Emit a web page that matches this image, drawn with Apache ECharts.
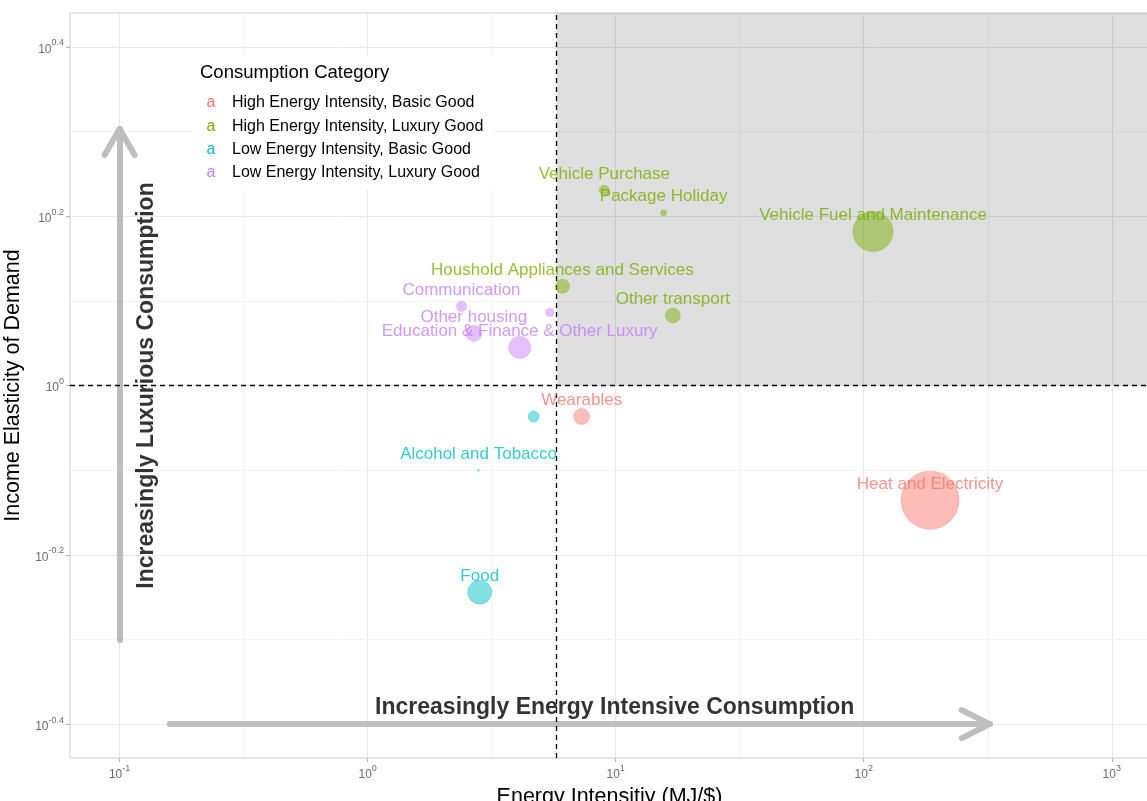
<!DOCTYPE html>
<html>
<head>
    <meta charset="utf-8">
    <title>Energy intensity and income elasticity</title>
    <style>
        * { margin: 0; padding: 0; }
        body { background: #fff; }
        #main { width: 1147px; height: 801px; }
    </style>
    <script src="https://cdn.jsdelivr.net/npm/echarts@6/dist/echarts.min.js"></script>
</head>
<body>
    <div id="main"></div>
    <script type="text/javascript">
        // categories (legend order)
        const categories = [
            'High Energy Intensity, Basic Good',
            'High Energy Intensity, Luxury Good',
            'Low Energy Intensity, Basic Good',
            'Low Energy Intensity, Luxury Good'
        ];
        const palette = ['#F8766D', '#7CAE00', '#00BFC4', '#C77CFF'];

        // consumption items ('' = point without a text label)
        const itemNames = [
            'Vehicle Purchase', 'Package Holiday', 'Vehicle Fuel and Maintenance',
            'Houshold Appliances and Services', 'Other transport', 'Communication', '',
            'Other housing', 'Education & Finance & Other Luxury', '', 'Wearables',
            'Alcohol and Tobacco', 'Food', 'Heat and Electricity'
        ];
        const itemCategory = [1, 1, 1, 1, 1, 3, 3, 3, 3, 2, 0, 2, 2, 0];
        const energyIntensity = [9.0, 15.6, 109, 6.1, 17.0, 2.39, 5.42, 2.68, 4.10, 4.67, 7.29, 2.80, 2.83, 185];
        const incomeElasticity = [1.70, 1.60, 1.52, 1.31, 1.21, 1.24, 1.22, 1.152, 1.109, 0.919, 0.919, 0.794, 0.570, 0.732];
        const budgetShare = [0.6, 0.21, 9.5, 1.17, 1.3, 0.6, 0.38, 1.5, 2.9, 0.72, 1.5, 0.02, 3.4, 20];

        // thresholds and axis ticks (exponents of 10)
        const energyThreshold = 5.78;
        const elasticityThreshold = 1;
        const xTickExp = [-1, 0, 1, 2, 3];
        const yTickExp = [-0.4, -0.2, 0, 0.2, 0.4];
        const xMinorExp = [-0.5, 0.5, 1.5, 2.5];
        const yMinorExp = [-0.3, -0.1, 0.1, 0.3];
        const xRange = [-1.2, 3.15];
        const yRange = [-0.44, 0.44];

        const font = '"Liberation Sans", Arial, Helvetica, sans-serif';
        const log10 = Math.log10;

        function fade(hex, a) {
            const n = parseInt(hex.slice(1), 16);
            return 'rgba(' + (n >> 16) + ',' + ((n >> 8) & 255) + ',' + (n & 255) + ',' + a + ')';
        }

        function powLabel(v) {
            let e = +(+v).toFixed(1);
            return '{b|10}{s|' + String(e) + '}';
        }
        const powRich = {
            b: { fontSize: 12, color: '#6b6b6b', fontFamily: font, lineHeight: 17, verticalAlign: 'bottom' },
            s: { fontSize: 9, color: '#6b6b6b', fontFamily: font, lineHeight: 9, verticalAlign: 'top' }
        };

        // points grouped by category
        const pointSeries = categories.map((cat, ci) => {
            const data = [];
            itemNames.forEach((nm, i) => {
                if (itemCategory[i] !== ci) return;
                data.push({
                    name: nm,
                    value: [log10(energyIntensity[i]), log10(incomeElasticity[i]), budgetShare[i]],
                    label: { show: nm !== '' }
                });
            });
            return {
                name: cat,
                type: 'scatter',
                z: 5,
                data: data,
                symbolSize: v => 13 * Math.sqrt(v[2]),
                itemStyle: { color: fade(palette[ci], 0.6), borderColor: fade(palette[ci], 0.5), borderWidth: 0.8 },
                label: {
                    position: 'inside',
                    offset: [0, -16],
                    formatter: '{b}',
                    color: palette[ci],
                    fontSize: 17,
                    fontFamily: font
                },
                emphasis: { disabled: true }
            };
        });

        // arrows: shaft + two arms, in log10 data units
        const arrowStyle = { color: '#bebebe', width: 6, type: 'solid', cap: 'round' };
        const vArrow = [[-1, -0.301], [-1, 0.303]];
        const hArrow = [[-0.798, -0.4], [2.508, -0.4]];
        function seg(a, b, style) {
            return [{ coord: a, lineStyle: style }, { coord: b }];
        }
        const vTip = vArrow[1], hTip = hArrow[1];
        const arrowLines = [
            seg(vArrow[0], vTip, arrowStyle),
            seg(vTip, [vTip[0] - 0.0605, vTip[1] - 0.0307], arrowStyle),
            seg(vTip, [vTip[0] + 0.0605, vTip[1] - 0.0307], arrowStyle),
            seg(hArrow[0], hTip, arrowStyle),
            seg(hTip, [hTip[0] - 0.113, hTip[1] + 0.0165], arrowStyle),
            seg(hTip, [hTip[0] - 0.113, hTip[1] - 0.0165], arrowStyle)
        ];
        const minorStyle = { color: '#f3f3f3', width: 1, type: 'solid' };
        const minorLines = xMinorExp.map(v => ({ xAxis: v, lineStyle: minorStyle }))
            .concat(yMinorExp.map(v => ({ yAxis: v, lineStyle: minorStyle })));
        const dashStyle = { color: '#000', type: [5, 4], width: 1.3 };

        // minor grid (bottom layer)
        const minorGridSeries = {
            type: 'scatter',
            z: 1,
            silent: true,
            data: [],
            markLine: {
                z: 1, silent: true, animation: false,
                symbol: ['none', 'none'], label: { show: false },
                data: minorLines
            }
        };

        // shaded quadrant, guide lines and arrows
        const annotationSeries = {
            type: 'scatter',
            z: 3,
            silent: true,
            symbolSize: 0,
            data: [],
            markArea: {
                z: 2,
                silent: true,
                itemStyle: { color: 'rgba(0,0,0,0.13)' },
                data: [[
                    { coord: [log10(energyThreshold), log10(elasticityThreshold)] },
                    { coord: [xRange[1], yRange[1]] }
                ]]
            },
            markLine: {
                z: 3, silent: true, animation: false,
                symbol: ['none', 'none'], label: { show: false },
                data: arrowLines.concat([
                    { xAxis: log10(energyThreshold), lineStyle: dashStyle },
                    { yAxis: log10(elasticityThreshold), lineStyle: dashStyle }
                ])
            }
        };

        const arrowTextSeries = {
            type: 'scatter',
            z: 5,
            silent: true,
            symbolSize: 0,
            data: [
                { value: [-0.891, 0], label: { formatter: 'Increasingly Luxurious Consumption', rotate: 90 } },
                { value: [0.996, -0.380], label: { formatter: 'Increasingly Energy Intensive Consumption' } }
            ],
            label: {
                show: true,
                position: 'inside',
                color: '#000',
                fontSize: 23,
                fontWeight: 'bold',
                fontFamily: font
            }
        };

        // legend drawn as a small boxed key with coloured "a"
        const legendGraphic = [
            { type: 'rect', z: 10, shape: { x: 192, y: 56, width: 300, height: 134 }, style: { fill: '#fff' } },
            { type: 'text', z: 11, x: 200, y: 73,
              style: { text: 'Consumption Category', fontSize: 18.5, fontFamily: font, fill: '#000', verticalAlign: 'middle' } }
        ];
        categories.forEach((cat, i) => {
            const y = 103 + i * 23.3;
            legendGraphic.push({ type: 'text', z: 11, x: 211, y: y,
                style: { text: 'a', fontSize: 16, fontFamily: font, fill: palette[i], align: 'center', verticalAlign: 'middle' } });
            legendGraphic.push({ type: 'text', z: 11, x: 232, y: y,
                style: { text: cat, fontSize: 16, fontFamily: font, fill: '#000', verticalAlign: 'middle' } });
        });

        const chart = echarts.init(document.getElementById('main'));
        chart.setOption({
            animation: false,
            backgroundColor: '#fff',
            grid: {
                left: 70, right: -2, top: 13, bottom: 43,
                containLabel: false, outerBoundsMode: 'none',
                show: true, borderColor: '#cccccc', borderWidth: 1
            },
            xAxis: {
                type: 'value',
                min: xRange[0],
                max: xRange[1],
                name: 'Energy Intensitiy (MJ/$)',
                nameLocation: 'middle',
                nameGap: 23,
                nameTextStyle: { fontSize: 21.5, color: '#000', fontFamily: font },
                axisLine: { show: false, onZero: false },
                axisTick: { show: true, length: 4, customValues: xTickExp, lineStyle: { color: '#b3b3b3' } },
                axisLabel: { customValues: xTickExp, margin: 6, formatter: powLabel, rich: powRich },
                splitLine: { show: true, lineStyle: { color: '#e8e8e8', width: 1 } }
            },
            yAxis: {
                type: 'value',
                min: yRange[0],
                max: yRange[1],
                name: 'Income Elasticity of Demand',
                nameLocation: 'middle',
                nameGap: 37,
                nameTextStyle: { fontSize: 21.5, color: '#000', fontFamily: font },
                axisLine: { show: false, onZero: false },
                axisTick: { show: true, length: 4, customValues: yTickExp, lineStyle: { color: '#b3b3b3' } },
                axisLabel: { customValues: yTickExp, margin: 6, formatter: powLabel, rich: powRich },
                splitLine: { show: true, lineStyle: { color: '#e8e8e8', width: 1 } }
            },
            graphic: legendGraphic,
            series: [minorGridSeries, annotationSeries, arrowTextSeries].concat(pointSeries)
        });
    </script>
</body>
</html>
